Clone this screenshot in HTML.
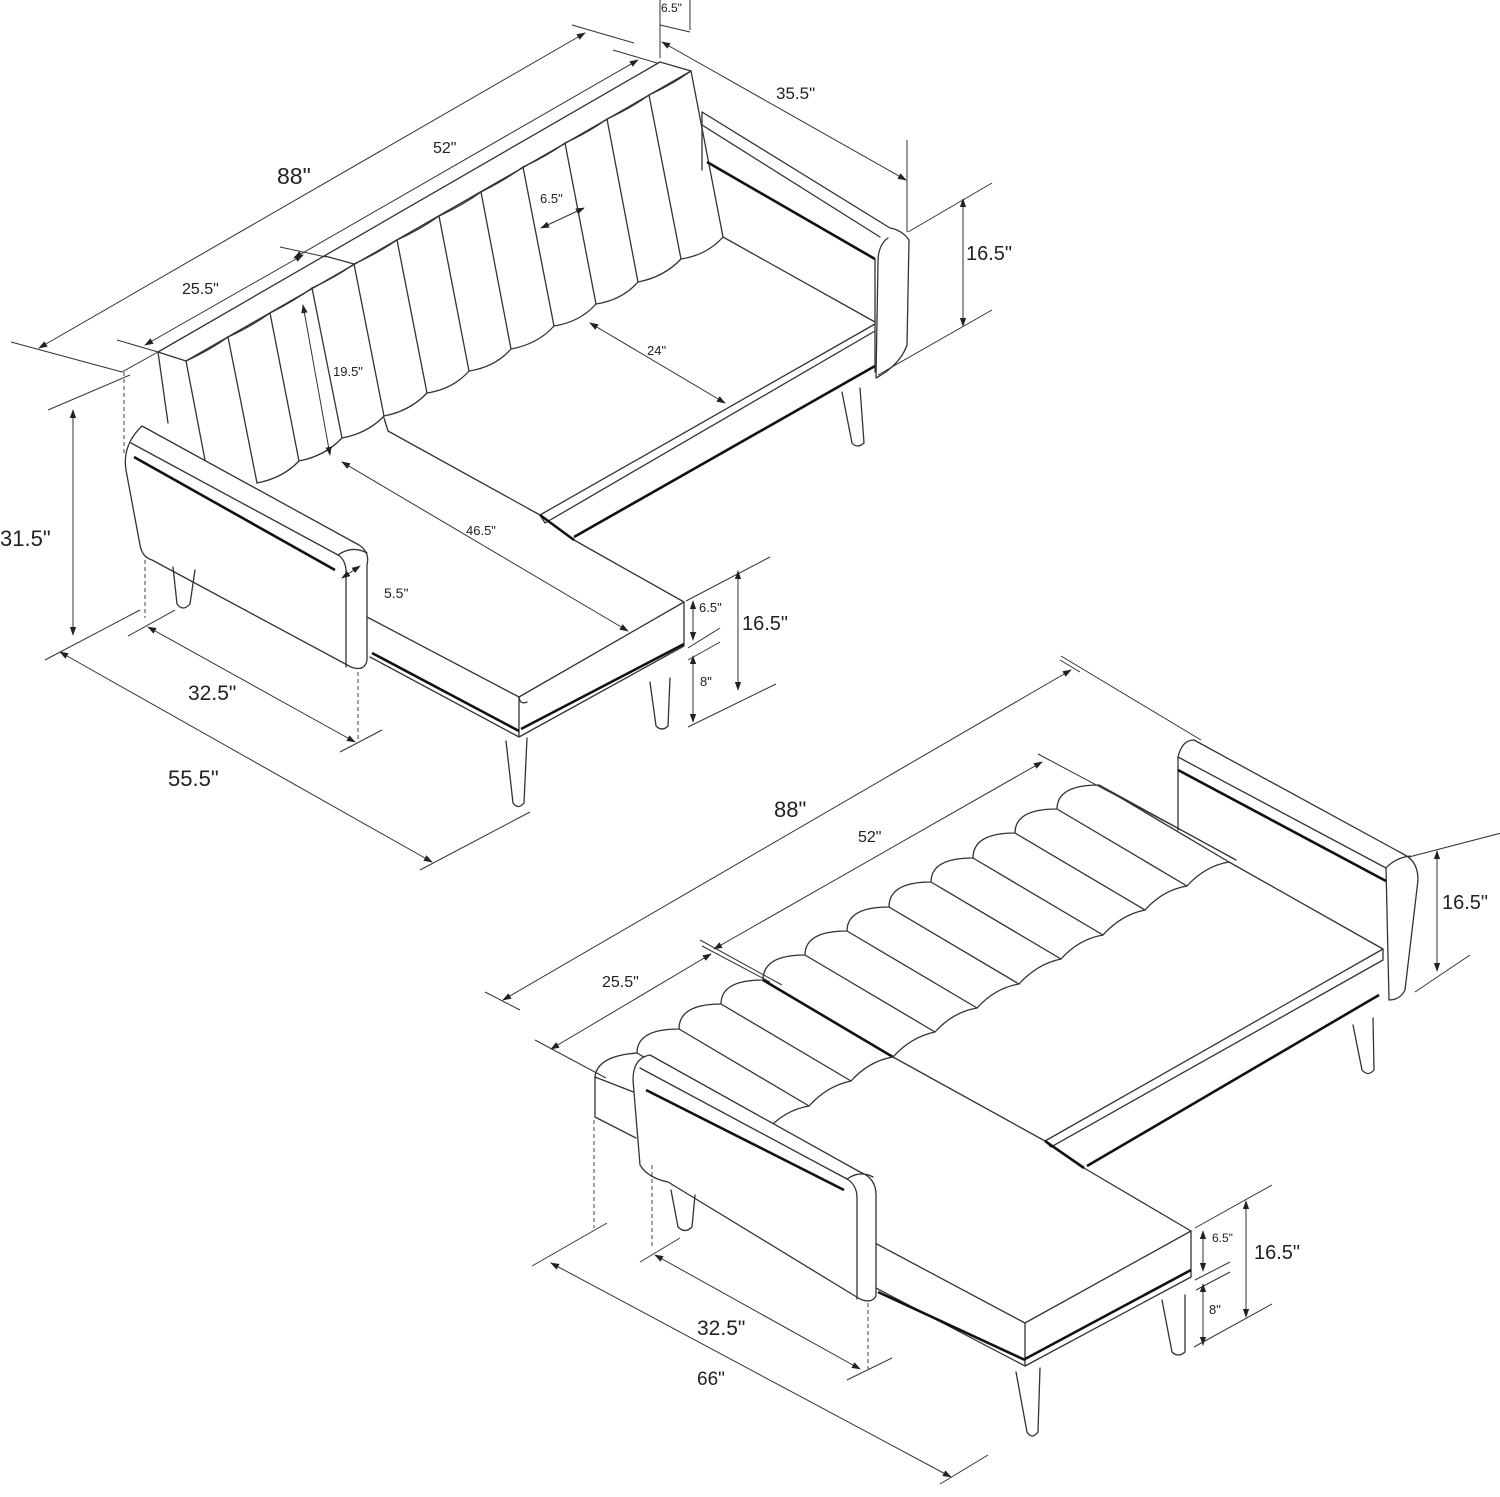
<!DOCTYPE html>
<html><head><meta charset="utf-8"><style>
html,body{margin:0;padding:0;background:#fff;}
svg{display:block;}
text{font-family:"Liberation Sans",sans-serif;fill:#222;}
.l{stroke:#333;stroke-width:1.3;fill:none;stroke-linejoin:round;stroke-linecap:round;}
.d{stroke:#111;stroke-width:2.6;fill:none;}
.dim{stroke:#333;stroke-width:1;fill:none;}
.ds{stroke:#444;stroke-width:1;fill:none;stroke-dasharray:4 3;}
.ar{stroke:#333;stroke-width:1;fill:none;marker-start:url(#a);marker-end:url(#a);}
</style></head><body>
<svg width="1500" height="1497" viewBox="0 0 1500 1497" xmlns="http://www.w3.org/2000/svg">
<defs><marker id="a" viewBox="0 0 10 10" refX="9" refY="5" markerWidth="9" markerHeight="9" orient="auto-start-reverse"><path d="M0,1.5 L10,5 L0,8.5 Z" fill="#222"/></marker></defs>

<!-- ===== TOP SOFA ===== -->
<path class="l" d="M158,352 L660,62 L691,71 L186,361 Z"/>
<path class="l" d="M325,256 L354,264"/>
<path class="l" d="M158,352 L168,423"/>
<path class="l" d="M186,361 L205,460 M228,337 L257,483 M270,313 L299,461 M312,288 L342,438 M354,264 L384,416 M397,240 L427,393 M439,216 L469,371 M481,192 L511,349 M523,167 L554,326 M565,143 L596,304 M607,119 L638,282 M649,95 L681,259 M691,71 L723,237"/>
<path class="l" d="M257,483 Q283,478 299,461 Q325,456 342,438 Q368,433 384,416 Q410,411 427,393 Q453,389 469,371 Q495,367 511,349 Q538,344 554,326 Q580,322 596,304 Q622,300 638,282 Q664,277 681,259 Q707,255 723,237"/>
<path class="l" d="M186,361 Q210,350 228,337 Q252,326 270,313 Q294,301 312,288 Q336,277 354,264 Q378,253 397,240 Q421,229 439,216 Q463,205 481,192 Q505,180 523,167 Q547,156 565,143 Q589,132 607,119 Q631,108 649,95 Q673,84 691,71"/>
<path class="l" d="M384,418 L388,431 L540,515 L875,324"/>
<path class="l" d="M540,515 L545,523 L875,331"/>
<path class="d" d="M574,537 L875,366"/>
<path class="l" d="M723,237 L875,322"/>
<path class="l" d="M702,112 L890,228 Q902,230 909,240 L907,345 Q900,365 876,378 L878,262 Q878,245 888,238"/>
<path class="l" d="M702,125 L880,237"/>
<path class="d" d="M707,162 L875,259"/>
<path class="l" d="M702,112 L702,170 M875,259 L875,372"/>
<path class="l" d="M842,392 L852,443 Q857,449 864,443 L860,388"/>
<path class="l" d="M367,617 L519,697 L684,602 L574,540"/>
<path class="l" d="M519,697 L519,737 M684,602 L684,644 M519,697 Q520,705 527,702"/>
<path class="d" d="M521,729 L684,644 M540,515 L574,540"/>
<path class="l" d="M370,657 L519,737 L684,646"/>
<path class="d" d="M372,653 L519,731"/>
<path class="l" d="M506,741 L513,803 Q518,810 524,803 L527,738"/>
<path class="l" d="M650,682 L656,726 Q662,732 668,726 L670,678"/>
<path class="l" d="M142,426 L359,545 Q370,552 367,565 L367,660 Q365,672 351,667 L152,560 Q142,557 140,545 L126,470 Q122,445 142,426 Z"/>
<path class="l" d="M131,443 L338,555 Q346,560 346,572 L346,667"/>
<path class="d" d="M134,457 L335,570"/>
<path class="l" d="M338,555 Q352,545 367,553"/>
<path class="l" d="M173,567 L177,604 Q183,612 190,604 L195,570"/>

<!-- top dimensions -->
<path class="ar" d="M39,348 L585,33"/>
<path class="dim" d="M11,342 L122,372 M572,25 L634,43 M122,372 L158,352"/>
<path class="ar" d="M294,258 L638,60"/>
<path class="dim" d="M280,247 L326,257 M613,50 L657,63"/>
<path class="ar" d="M145,345 L303,255"/>
<path class="dim" d="M117,340 L158,352"/>
<path class="dim" d="M660,0 L660,58 M690,0 L690,30 M660,25 L690,32"/>
<path class="ar" d="M662,42 L906,180"/>
<path class="dim" d="M907,140 L907,232"/>
<path class="ar" d="M963,199 L963,326"/>
<path class="dim" d="M908,232 L992,183 M878,375 L992,310"/>
<path class="ar" d="M541,228 L584,208"/>
<path class="ar" d="M590,323 L725,403"/>
<path class="ar" d="M303,305 L330,455"/>
<path class="ar" d="M342,462 L628,631"/>
<path class="ar" d="M342,578 L360,566"/>
<path class="ar" d="M73,410 L73,635"/>
<path class="dim" d="M48,410 L130,375 M45,660 L140,610"/>
<path class="ds" d="M124,372 L124,455 M145,560 L145,618 M358,672 L358,742"/>
<path class="ar" d="M148,627 L355,742"/>
<path class="dim" d="M128,636 L175,610 M340,752 L382,730"/>
<path class="ar" d="M60,652 L432,862"/>
<path class="dim" d="M420,870 L530,812"/>
<path class="ar" d="M738,571 L738,690"/>
<path class="ar" d="M693,601 L693,640"/>
<path class="ar" d="M693,656 L693,722"/>
<path class="dim" d="M686,601 L770,557 M688,648 L720,628 M688,660 L720,642 M688,727 L776,684"/>

<!-- ===== BOTTOM SOFA ===== -->
<!-- left back block -->
<path class="l" d="M595,1077 L595,1117 L636,1138"/>
<path class="l" d="M595,1077 L636,1093"/>
<path class="l" d="M595,1077 Q597,1056 637,1053"/>
<!-- ridge bumps -->
<path class="l" d="M637,1053 Q637,1029 679,1029 Q679,1004 721,1004 Q721,980 763,980 Q763,955 805,955 Q805,931 847,931 Q847,907 889,907 Q889,882 931,882 Q931,858 973,858 Q973,833 1015,833 Q1015,809 1057,809 Q1057,785 1099,785 L1236,860"/>
<!-- channel lines -->
<path class="l" d="M637,1053 L767,1130 M679,1029 L809,1106 M721,1004 L851,1081 M805,955 L935,1032 M847,931 L977,1008 M889,907 L1019,984 M931,882 L1061,959 M973,858 L1103,935 M1015,833 L1145,910 M1057,809 L1187,886 M1099,785 L1229,862"/>
<path class="d" d="M763,980 L893,1057"/>
<!-- bottom scallops -->
<path class="l" d="M767,1130 Q785,1110 809,1106 Q827,1086 851,1081 Q869,1061 893,1057 Q911,1037 935,1032 Q953,1012 977,1008 Q995,988 1019,984 Q1037,964 1061,959 Q1079,939 1103,935 Q1121,915 1145,910 Q1163,890 1187,886 Q1205,866 1229,862"/>
<!-- seat main -->
<path class="l" d="M1229,862 L1383,949 L1045,1141 L893,1057"/>
<path class="l" d="M1383,949 L1383,960 L1051,1147 L1045,1141"/>
<path class="d" d="M1087,1166 L1379,995"/>
<!-- right arm -->
<path class="l" d="M1194,740 L1405,855 Q1418,862 1418,880 L1405,990 Q1400,1000 1389,1000 L1386,868 Q1395,858 1410,856"/>
<path class="l" d="M1178,757 Q1182,740 1194,740 M1178,757 L1386,868 M1178,757 L1178,830"/>
<path class="d" d="M1178,770 L1386,881"/>
<path class="l" d="M1353,1025 L1362,1070 Q1368,1077 1374,1070 L1373,1018"/>
<!-- chaise -->
<path class="l" d="M873,1242 L1025,1323 L1191,1231 L1084,1168"/>
<path class="l" d="M1025,1323 L1025,1366 M1191,1231 L1191,1277"/>
<path class="d" d="M1025,1359 L1191,1270 M1045,1141 L1084,1168"/>
<path class="l" d="M876,1288 L1025,1366 L1191,1277"/>
<path class="d" d="M878,1292 L1025,1360"/>
<path class="l" d="M1016,1372 L1027,1432 Q1032,1440 1038,1432 L1040,1368"/>
<path class="l" d="M1162,1300 L1172,1352 Q1178,1358 1185,1352 L1185,1295"/>
<!-- left arm -->
<path class="l" d="M650,1055 L860,1172 Q876,1178 876,1195 L876,1296 Q872,1304 860,1299 L668,1182 Q648,1178 640,1165 L633,1080 Q633,1058 650,1055 Z" fill="#fff" style="fill:#fff"/>
<path class="l" d="M640,1068 L847,1179 Q857,1185 857,1198 L857,1299"/>
<path class="d" d="M646,1090 L844,1190"/>
<path class="l" d="M847,1179 Q860,1170 873,1177"/>
<path class="l" d="M671,1190 L678,1227 Q685,1234 692,1227 L695,1195"/>

<!-- bottom dimensions -->
<path class="ar" d="M503,1000 L1071,670"/>
<path class="dim" d="M485,992 L520,1010 M1061,656 L1201,740 M1060,660 L1080,672"/>
<path class="ar" d="M714,949 L1042,762"/>
<path class="dim" d="M1038,754 L1181,830 M700,940 L782,985"/>
<path class="ar" d="M551,1049 L711,954"/>
<path class="dim" d="M535,1040 L606,1078 M702,946 L770,982"/>
<path class="ar" d="M1437,851 L1437,971"/>
<path class="dim" d="M1409,857 L1505,832 M1415,992 L1470,955"/>
<path class="ar" d="M1246,1201 L1246,1317"/>
<path class="ar" d="M1203,1231 L1203,1271"/>
<path class="ar" d="M1203,1284 L1203,1345"/>
<path class="dim" d="M1195,1228 L1272,1185 M1195,1280 L1230,1262 M1196,1290 L1230,1272 M1194,1347 L1272,1304"/>
<path class="ar" d="M551,1263 L951,1477"/>
<path class="dim" d="M532,1266 L607,1223 M940,1484 L988,1455"/>
<path class="ar" d="M655,1255 L860,1369"/>
<path class="dim" d="M640,1262 L680,1238 M847,1380 L892,1358"/>
<path class="ds" d="M594,1120 L594,1228 M652,1165 L652,1247 M868,1303 L868,1369"/>

<!-- labels -->
<text x="277" y="184" font-size="23">88"</text>
<text x="433" y="153" font-size="16">52"</text>
<text x="182" y="294" font-size="16">25.5"</text>
<text x="661" y="12" font-size="12">6.5"</text>
<text x="776" y="99" font-size="17">35.5"</text>
<text x="966" y="260" font-size="20">16.5"</text>
<text x="540" y="203" font-size="13">6.5"</text>
<text x="647" y="355" font-size="13">24"</text>
<text x="333" y="376" font-size="13">19.5"</text>
<text x="466" y="535" font-size="13">46.5"</text>
<text x="384" y="598" font-size="14">5.5"</text>
<text x="0" y="546" font-size="22">31.5"</text>
<text x="188" y="700" font-size="21">32.5"</text>
<text x="168" y="786" font-size="22">55.5"</text>
<text x="699" y="612" font-size="13">6.5"</text>
<text x="742" y="630" font-size="20">16.5"</text>
<text x="700" y="686" font-size="13">8"</text>
<text x="774" y="817" font-size="22">88"</text>
<text x="858" y="842" font-size="16">52"</text>
<text x="602" y="987" font-size="16">25.5"</text>
<text x="1442" y="909" font-size="20">16.5"</text>
<text x="1212" y="1242" font-size="12">6.5"</text>
<text x="1254" y="1259" font-size="20">16.5"</text>
<text x="1209" y="1314" font-size="13">8"</text>
<text x="697" y="1335" font-size="21">32.5"</text>
<text x="697" y="1385" font-size="19">66"</text>
</svg>
</body></html>
